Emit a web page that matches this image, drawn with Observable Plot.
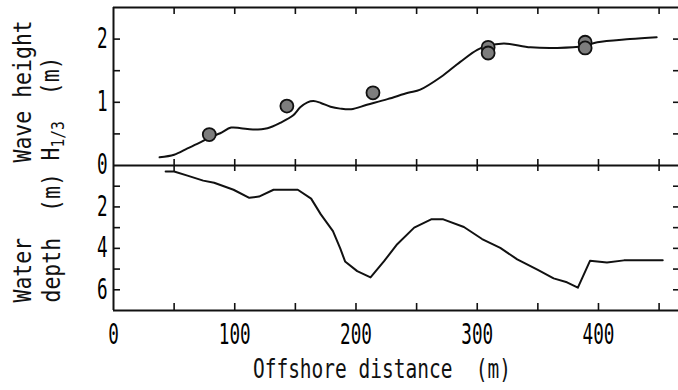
<!DOCTYPE html>
<html>
<head>
<meta charset="utf-8">
<script src="https://cdn.jsdelivr.net/npm/d3@7"></script>
<script src="https://cdn.jsdelivr.net/npm/@observablehq/plot@0.6"></script>
<style>
  html, body { margin: 0; padding: 0; background: #fff; }
  #wrap { position: relative; width: 678px; height: 390px; overflow: hidden; }
</style>
</head>
<body>
<div id="wrap"></div>
<script>
// ---- data ----
const waveX = [38, 50, 61, 72, 80, 88, 97, 105, 115, 127, 138, 148, 154, 160, 165, 171, 179, 187, 196, 209, 226, 243, 253, 270, 286, 300, 308, 322, 344, 366, 388, 399, 426, 448];
const waveH = [0.13, 0.17, 0.27, 0.37, 0.45, 0.51, 0.60, 0.59, 0.57, 0.59, 0.68, 0.79, 0.92, 1.00, 1.02, 0.99, 0.93, 0.90, 0.89, 0.96, 1.05, 1.15, 1.20, 1.40, 1.64, 1.83, 1.89, 1.93, 1.87, 1.86, 1.89, 1.95, 2.00, 2.03];

const obsX = [79, 143, 214, 309, 309, 389, 389];
const obsH = [0.49, 0.94, 1.15, 1.87, 1.78, 1.95, 1.86];

const depthX = [43, 50, 61, 74, 83, 99, 112, 120, 132, 152, 163, 171, 181, 187, 191, 201, 212, 223, 234, 248, 262, 272, 289, 304, 319, 333, 350, 363, 374, 383, 393, 399, 407, 421, 453];
const depthD = [0.29, 0.29, 0.49, 0.73, 0.83, 1.17, 1.56, 1.50, 1.17, 1.17, 1.60, 2.36, 3.17, 4.00, 4.63, 5.10, 5.40, 4.63, 3.80, 3.00, 2.60, 2.60, 2.97, 3.55, 3.98, 4.53, 5.04, 5.45, 5.64, 5.90, 4.60, 4.63, 4.68, 4.58, 4.58];

const xTickLabels = [0, 100, 200, 300, 400];
const xMinorTicks = [50, 100, 150, 200, 250, 300, 350, 400, 450];
const waveTickLabels = [0, 1, 2];
const waveMinorTicks = [0.5, 1, 1.5, 2];
const depthTickLabels = [2, 4, 6];
const depthMinorTicks = [1, 2, 3, 4, 5, 6];

const xTitle = "Offshore distance  (m)";
const waveTitle1 = "Wave height";
const waveTitle2 = "H1/3  (m)";
const depthTitle1 = "Water";
const depthTitle2 = "depth  (m)";

// ---- tables ----
const waveLine = waveX.map((x, i) => ({x, y: waveH[i]}));
const obs = obsX.map((x, i) => ({x, y: obsH[i]}));
const depth = depthX.map((x, i) => ({x, y: depthD[i]}));

const W = 678, H = 390;
const ML = 113, MR = 0;
const FW = W - ML - MR;
const xDomain = [0, 466];
const FONT = "'DejaVu Sans Mono', monospace";
const svgStyle = `position:absolute;left:0;top:0;background:transparent;overflow:visible;font-family:${FONT};white-space:pre;`;

const ink = "#111";

// ---- top panel: wave height ----
const topTop = 7, topBottom = 165;
const topH = topBottom - topTop;
const wavePlot = Plot.plot({
  width: W, height: H,
  marginLeft: ML, marginRight: MR, marginTop: topTop, marginBottom: H - topBottom,
  x: {domain: xDomain, axis: null},
  y: {domain: [0, 2.5], axis: null},
  style: svgStyle,
  marks: [
    Plot.ruleY([2.5], {stroke: ink, strokeWidth: 2}),
    Plot.ruleY([0], {stroke: ink, strokeWidth: 2}),
    Plot.ruleX([0], {stroke: ink, strokeWidth: 2}),
    Plot.tickX(xMinorTicks, {stroke: ink, strokeWidth: 1.6, insetBottom: topH - 7}),
    Plot.tickX(xMinorTicks, {stroke: ink, strokeWidth: 1.6, insetTop: topH - 6}),
    Plot.tickY(waveMinorTicks, {stroke: ink, strokeWidth: 1.6, insetRight: FW - 7}),
    Plot.tickY(waveMinorTicks, {stroke: ink, strokeWidth: 1.6, insetLeft: FW - 5}),
    Plot.axisY({ticks: waveTickLabels, tickSize: 0, tickPadding: 6, fontSize: 28, label: null, tickFormat: d3.format("d")}),
    Plot.line(waveLine, {x: "x", y: "y", curve: "catmull-rom", stroke: ink, strokeWidth: 2}),
    Plot.dot(obs, {x: "x", y: "y", r: 6.5, fill: "#7d7d7d", stroke: "#111", strokeWidth: 1.8}),
    Plot.text([waveTitle1], {frameAnchor: "bottom-left", rotate: -90, textAnchor: "start", lineAnchor: "middle", dx: -91, dy: -3, fontSize: 25, fill: ink}),
    Plot.text([waveTitle2], {frameAnchor: "bottom-left", rotate: -90, textAnchor: "start", lineAnchor: "middle", dx: -63, dy: -5, fontSize: 25, fill: ink})
  ]
});

// ---- bottom panel: water depth ----
const botTop = 165, botBottom = 310;
const botH = botBottom - botTop;
const depthPlot = Plot.plot({
  width: W, height: H,
  marginLeft: ML, marginRight: MR, marginTop: botTop, marginBottom: H - botBottom,
  x: {domain: xDomain, axis: null},
  y: {domain: [0, 7], reverse: true, axis: null},
  style: svgStyle,
  marks: [
    Plot.ruleY([7], {stroke: ink, strokeWidth: 2}),
    Plot.ruleX([0], {stroke: ink, strokeWidth: 2}),
    Plot.tickX(xMinorTicks, {stroke: ink, strokeWidth: 1.6, insetBottom: botH - 6}),
    Plot.tickX(xMinorTicks, {stroke: ink, strokeWidth: 1.6, insetTop: botH - 7}),
    Plot.tickY(depthMinorTicks, {stroke: ink, strokeWidth: 1.6, insetRight: FW - 7}),
    Plot.tickY(depthMinorTicks, {stroke: ink, strokeWidth: 1.6, insetLeft: FW - 5}),
    Plot.axisY({ticks: depthTickLabels, tickSize: 0, tickPadding: 6, fontSize: 28, label: null, tickFormat: d3.format("d")}),
    Plot.axisX({ticks: xTickLabels, tickSize: 0, tickPadding: 14, fontSize: 28, label: null, tickFormat: d3.format("d")}),
    Plot.line(depth, {x: "x", y: "y", stroke: ink, strokeWidth: 2}),
    Plot.text([xTitle], {frameAnchor: "bottom", textAnchor: "middle", lineAnchor: "middle", dx: -14, dy: 59, fontSize: 26, fill: ink}),
    Plot.text([depthTitle1], {frameAnchor: "bottom-left", rotate: -90, textAnchor: "start", lineAnchor: "middle", dx: -91, dy: -8, fontSize: 25, fill: ink}),
    Plot.text([depthTitle2], {frameAnchor: "bottom-left", rotate: -90, textAnchor: "start", lineAnchor: "middle", dx: -62, dy: -8, fontSize: 25, fill: ink})
  ]
});

// ---- condense the text horizontally (narrow plotter lettering) ----
const NS = "http://www.w3.org/2000/svg";
function condense(svg) {
  svg.querySelectorAll("text").forEach(t => {
    const s = t.textContent.trim();
    const sx = /^\d+$/.test(s) ? 0.63 : (s === xTitle.trim() ? 0.75 : 0.86);
    const g = document.createElementNS(NS, "g");
    let tr = t.getAttribute("transform") || "";
    const xa = t.getAttribute("x");
    if (xa && !isNaN(+xa)) { tr += ` translate(${+xa},0)`; t.setAttribute("x", 0); }
    if (tr) g.setAttribute("transform", tr);
    t.setAttribute("transform", `scale(${sx},1)`);
    t.parentNode.insertBefore(g, t);
    g.appendChild(t);
  });
  // subscript for H1/3
  svg.querySelectorAll("text").forEach(t => {
    if (t.textContent === waveTitle2) {
      t.textContent = "";
      const a = document.createElementNS(NS, "tspan"); a.textContent = "H"; t.appendChild(a);
      const b = document.createElementNS(NS, "tspan"); b.textContent = "1/3"; b.setAttribute("font-size", "17"); b.setAttribute("dy", "5"); t.appendChild(b);
      const c = document.createElementNS(NS, "tspan"); c.textContent = "  (m)"; c.setAttribute("dy", "-5"); t.appendChild(c);
    }
  });
}
condense(wavePlot);
condense(depthPlot);

const wrap = document.getElementById("wrap");
wrap.appendChild(depthPlot);
wrap.appendChild(wavePlot);
</script>
</body>
</html>
